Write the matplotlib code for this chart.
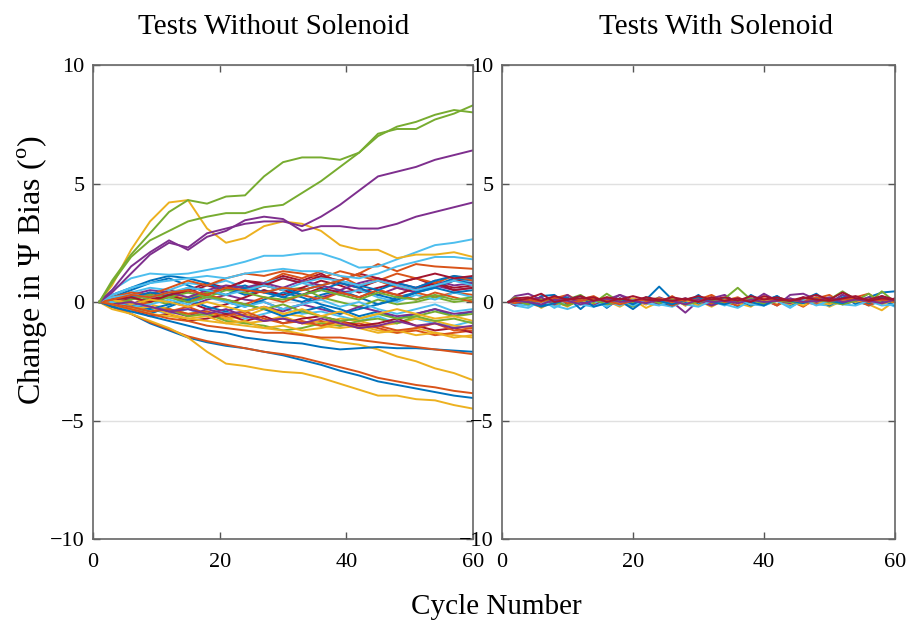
import matplotlib
matplotlib.use("Agg")
import matplotlib.pyplot as plt

plt.rcParams["font.family"] = ["Liberation Serif", "DejaVu Serif"]
plt.rcParams["mathtext.fontset"] = "custom"
plt.rcParams["mathtext.rm"] = "Liberation Serif"

# MATLAB default colour order
BLUE, ORANGE, YELLOW, PURPLE = "#0072BD", "#D95319", "#EDB120", "#7E2F8E"
GREEN, LBLUE, DRED = "#77AC30", "#4DBEEE", "#A2142F"

# ---- left panel: tests without solenoid (values read every 3 cycles) ----
ciclos_izq = [1, 3, 6, 9, 12, 15, 18, 21, 24, 27, 30, 33, 36, 39, 42, 45, 48, 51, 54, 57, 60]

verde_a = [0, 0.9, 2.0, 2.9, 3.8, 4.3, 4.15, 4.45, 4.5, 5.3, 5.9, 6.1, 6.1, 6.0, 6.3, 7.0, 7.4, 7.6, 7.9, 8.1, 8.0]
verde_b = [0, 0.8, 1.9, 2.6, 3.0, 3.4, 3.6, 3.75, 3.75, 4.0, 4.1, 4.6, 5.1, 5.7, 6.3, 7.1, 7.3, 7.3, 7.7, 7.95, 8.3]
morado_c = [0, 0.4, 1.2, 2.0, 2.5, 2.3, 2.9, 3.1, 3.3, 3.4, 3.4, 3.2, 3.6, 4.1, 4.7, 5.3, 5.5, 5.7, 6.0, 6.2, 6.4]
morado_d = [0, 0.5, 1.5, 2.1, 2.6, 2.2, 2.75, 3.0, 3.45, 3.6, 3.5, 3.0, 3.2, 3.2, 3.1, 3.1, 3.3, 3.6, 3.8, 4.0, 4.2]
amarillo_e = [0, 0.7, 2.2, 3.4, 4.2, 4.3, 3.1, 2.5, 2.7, 3.2, 3.4, 3.3, 3.0, 2.4, 2.2, 2.2, 1.85, 2.0, 2.0, 2.1, 1.9]
celeste_f = [0, 0.5, 1.0, 1.2, 1.15, 1.2, 1.35, 1.5, 1.7, 1.95, 1.95, 2.05, 2.05, 1.8, 1.45, 1.5, 1.8, 2.1, 2.4, 2.5, 2.65]
celeste_g = [0, 0.3, 0.6, 0.8, 0.9, 1.0, 1.1, 1.0, 1.2, 1.3, 1.4, 1.3, 1.3, 1.1, 1.0, 1.2, 1.5, 1.7, 1.9, 1.9, 1.8]
naranja_h = [0, 0.1, 0.3, 0.2, 0.4, 0.5, 0.3, 0.6, 0.5, 0.4, 0.6, 0.5, 0.7, 0.9, 1.2, 1.6, 1.3, 1.6, 1.5, 1.45, 1.4]
azul_i = [0, -0.2, -0.5, -0.9, -1.2, -1.5, -1.7, -1.85, -1.95, -2.1, -2.25, -2.45, -2.65, -2.9, -3.1, -3.35, -3.5, -3.65, -3.8, -3.95, -4.05]
naranja_j = [0, -0.2, -0.5, -0.85, -1.15, -1.45, -1.65, -1.8, -1.95, -2.1, -2.2, -2.35, -2.55, -2.75, -2.95, -3.2, -3.35, -3.5, -3.6, -3.75, -3.85]
amarillo_k = [0, -0.3, -0.5, -0.8, -1.1, -1.5, -2.1, -2.6, -2.7, -2.85, -2.95, -3.0, -3.2, -3.45, -3.7, -3.95, -3.95, -4.1, -4.15, -4.35, -4.5]
amarillo_l = [0, -0.1, -0.3, -0.5, -0.6, -0.7, -0.8, -0.9, -1.0, -1.1, -1.2, -1.35, -1.55, -1.7, -1.8, -2.0, -2.3, -2.5, -2.8, -3.0, -3.3]
azul_m = [0, -0.2, -0.4, -0.6, -0.8, -1.0, -1.2, -1.3, -1.5, -1.6, -1.7, -1.75, -1.9, -2.0, -1.95, -1.9, -1.95, -1.95, -2.0, -2.05, -2.1]
naranja_n = [0, -0.1, -0.3, -0.5, -0.7, -0.8, -1.0, -1.1, -1.2, -1.3, -1.3, -1.4, -1.5, -1.5, -1.6, -1.7, -1.8, -1.9, -2.0, -2.1, -2.2]

haz = [
    (DRED,   [0, 0.1, 0.3, 0.2, 0.5, 0.4, 0.7, 0.5, 0.9, 0.8, 1.1, 0.9, 1.2, 0.8, 0.6, 0.9, 0.7, 0.5, 0.8, 0.6, 0.7]),
    (BLUE,   [0, 0.2, 0.5, 0.8, 1.0, 0.7, 0.4, 0.6, 0.3, 0.5, 0.2, 0.0, 0.3, 0.5, 0.2, -0.1, 0.2, 0.4, 0.6, 0.9, 0.8]),
    (ORANGE, [0, -0.1, 0.2, 0.0, 0.3, 0.1, 0.4, 0.6, 0.5, 0.8, 1.2, 1.0, 1.3, 1.1, 0.7, 0.9, 0.6, 0.4, 0.2, 0.4, 0.3]),
    (YELLOW, [0, -0.2, -0.1, -0.4, -0.3, -0.6, -0.5, -0.7, -0.9, -0.8, -0.6, -0.9, -1.0, -1.1, -1.0, -1.2, -1.3, -1.1, -1.3, -1.4, -1.5]),
    (PURPLE, [0, 0.1, -0.1, 0.2, 0.0, -0.2, 0.1, 0.3, 0.1, 0.0, -0.3, -0.1, 0.2, 0.4, 0.5, 0.3, 0.6, 0.4, 0.7, 0.5, 0.6]),
    (GREEN,  [0, 0.1, 0.3, 0.1, -0.1, 0.2, 0.4, 0.3, 0.6, 0.7, 0.5, 0.6, 0.2, 0.0, -0.2, 0.1, -0.1, 0.0, 0.2, 0.0, 0.1]),
    (LBLUE,  [0, -0.2, -0.4, -0.3, -0.5, -0.3, -0.6, -0.4, -0.7, -0.5, -0.3, -0.5, -0.4, -0.6, -0.8, -0.6, -0.9, -0.7, -0.9, -1.0, -0.8]),
    (DRED,   [0, 0.0, -0.2, 0.1, 0.3, 0.0, -0.3, -0.1, 0.2, 0.5, 0.3, 0.6, 0.9, 0.7, 0.4, 0.6, 0.8, 1.0, 0.7, 0.9, 1.0]),
    (BLUE,   [0, -0.1, -0.3, -0.5, -0.2, 0.1, 0.3, 0.0, -0.2, 0.1, 0.4, 0.2, -0.1, -0.3, -0.6, -0.4, -0.7, -0.5, -0.3, -0.6, -0.4]),
    (ORANGE, [0, 0.1, 0.0, -0.2, -0.4, -0.2, -0.5, -0.7, -0.5, -0.8, -0.7, -0.9, -0.8, -1.0, -0.9, -1.1, -1.3, -1.2, -1.4, -1.3, -1.2]),
    (YELLOW, [0, 0.0, 0.2, -0.1, -0.3, -0.5, -0.4, -0.7, -0.6, -0.3, -0.5, -0.6, -0.9, -0.7, -0.8, -1.0, -0.9, -0.7, -0.8, -1.0, -1.1]),
    (PURPLE, [0, -0.1, -0.3, -0.2, -0.4, -0.6, -0.3, -0.5, -0.4, -0.2, -0.4, -0.1, -0.3, -0.5, -0.2, -0.4, -0.6, -0.5, -0.3, -0.5, -0.4]),
    (GREEN,  [0, 0.0, -0.2, -0.4, -0.3, -0.6, -0.5, -0.8, -0.9, -1.0, -1.2, -1.1, -0.9, -1.0, -0.8, -0.7, -0.9, -0.6, -0.8, -0.7, -0.9]),
    (LBLUE,  [0, 0.1, 0.4, 0.6, 0.5, 0.8, 0.7, 0.9, 0.6, 0.8, 1.0, 0.8, 0.6, 0.3, 0.5, 0.2, 0.0, 0.3, 0.1, 0.4, 0.2]),
    (DRED,   [0, 0.2, 0.1, 0.4, 0.2, 0.5, 0.8, 0.6, 0.4, 0.7, 0.5, 0.3, 0.6, 0.4, 0.2, 0.5, 0.3, 0.6, 0.8, 0.5, 0.6]),
    (BLUE,   [0, 0.3, 0.6, 0.9, 1.1, 1.0, 0.8, 0.5, 0.7, 0.4, 0.6, 0.3, 0.5, 0.8, 0.6, 0.3, 0.1, 0.4, 0.7, 1.0, 0.9]),
    (ORANGE, [0, -0.1, -0.2, 0.0, 0.2, 0.0, 0.3, 0.1, -0.1, 0.2, 0.0, 0.3, 0.1, 0.4, 0.2, 0.5, 0.3, 0.1, 0.4, 0.2, 0.0]),
    (DRED,   [0, -0.1, -0.3, -0.6, -0.5, -0.8, -0.7, -0.5, -0.8, -0.6, -0.9, -0.7, -0.6, -0.8, -1.0, -0.9, -0.7, -1.0, -1.2, -1.1, -1.3]),
    (BLUE,   [0, -0.2, -0.1, -0.3, -0.1, 0.1, -0.2, -0.4, -0.1, -0.3, -0.6, -0.4, -0.2, -0.5, -0.3, -0.1, 0.1, 0.4, 0.6, 0.4, 0.5]),
    (GREEN,  [0, 0.1, 0.2, 0.0, 0.2, 0.4, 0.2, 0.5, 0.4, 0.2, 0.1, 0.3, 0.5, 0.3, 0.1, 0.4, 0.2, 0.1, 0.3, 0.1, 0.2]),
    (PURPLE, [0, 0.1, 0.3, 0.5, 0.4, 0.2, 0.5, 0.7, 0.6, 0.8, 0.6, 0.9, 0.7, 0.5, 0.8, 1.0, 0.8, 0.6, 0.9, 0.7, 0.8]),
    (YELLOW, [0, -0.1, -0.3, -0.2, -0.5, -0.7, -0.6, -0.9, -0.8, -1.1, -1.0, -1.2, -1.1, -0.9, -1.1, -1.3, -1.2, -1.4, -1.3, -1.5, -1.4]),
    (ORANGE, [0, 0.2, 0.4, 0.3, 0.6, 0.9, 0.7, 1.0, 1.2, 1.1, 1.3, 1.2, 1.0, 1.3, 1.1, 0.9, 1.2, 1.0, 0.8, 1.1, 0.9]),
    (LBLUE,  [0, 0.0, -0.2, -0.1, 0.1, -0.1, 0.2, 0.0, -0.2, 0.0, -0.3, -0.1, 0.1, -0.2, 0.0, -0.3, -0.5, -0.3, -0.1, -0.4, -0.3]),
    (BLUE,   [0, 0.1, 0.2, 0.4, 0.3, 0.6, 0.5, 0.3, 0.6, 0.4, 0.2, 0.5, 0.7, 0.9, 0.7, 0.5, 0.8, 0.6, 0.9, 1.1, 1.0]),
    (ORANGE, [0, -0.1, -0.2, -0.4, -0.3, -0.5, -0.4, -0.6, -0.4, -0.7, -0.9, -0.8, -1.0, -0.8, -1.1, -1.0, -1.2, -1.1, -0.9, -1.2, -1.1]),
    (GREEN,  [0, -0.1, 0.1, 0.3, 0.2, 0.0, 0.2, 0.1, -0.1, -0.3, -0.1, -0.4, -0.6, -0.8, -0.7, -0.5, -0.7, -0.6, -0.4, -0.6, -0.5]),
    (DRED,   [0, 0.1, 0.2, 0.0, 0.3, 0.5, 0.3, 0.6, 0.9, 0.7, 1.0, 0.8, 1.1, 0.9, 1.2, 1.0, 0.8, 1.0, 1.2, 1.0, 1.1]),
    (YELLOW, [0, 0.1, -0.1, 0.1, 0.0, -0.2, 0.0, -0.2, -0.4, -0.2, -0.5, -0.3, -0.6, -0.4, -0.7, -0.5, -0.3, -0.5, -0.7, -0.6, -0.8]),
    (LBLUE,  [0, 0.2, 0.3, 0.2, 0.4, 0.6, 0.5, 0.3, 0.5, 0.7, 0.5, 0.8, 1.0, 0.9, 0.7, 0.9, 0.7, 0.5, 0.7, 0.9, 0.7]),
    (PURPLE, [0, -0.1, 0.0, -0.2, -0.4, -0.3, -0.5, -0.3, -0.6, -0.8, -0.7, -0.9, -0.7, -0.9, -1.1, -1.0, -0.8, -1.0, -0.9, -1.1, -1.0]),
]

destacadas = [
    (azul_i, BLUE), (naranja_j, ORANGE), (amarillo_k, YELLOW), (amarillo_l, YELLOW),
    (azul_m, BLUE), (naranja_n, ORANGE), (naranja_h, ORANGE), (celeste_g, LBLUE),
    (celeste_f, LBLUE), (amarillo_e, YELLOW), (morado_d, PURPLE), (morado_c, PURPLE),
    (verde_b, GREEN), (verde_a, GREEN),
]

# ---- right panel: tests with solenoid (values read every 2 cycles) ----
ciclos_der = [1] + list(range(2, 61, 2))

con_solenoide = [
    (BLUE,   [0, 0.1, -0.15, 0.25, 0.3, -0.1, 0.05, 0.2, -0.25, 0.15, -0.05, 0.1, 0.65, 0.1, -0.05, 0.3, -0.15, 0.15, -0.2, 0.3, 0.0, 0.25, -0.15, 0.1, 0.35, -0.05, 0.3, -0.1, 0.2, 0.4, 0.45]),
    (ORANGE, [0, 0.15, -0.05, -0.2, 0.15, 0.3, 0.0, -0.15, 0.2, 0.05, -0.1, 0.2, -0.05, 0.25, -0.15, 0.1, 0.3, 0.0, -0.15, 0.15, -0.05, 0.2, 0.05, -0.2, 0.15, 0.3, -0.05, 0.2, 0.35, -0.05, 0.15]),
    (YELLOW, [0, -0.15, 0.1, -0.25, 0.05, -0.2, 0.15, -0.1, 0.05, -0.2, 0.1, -0.25, 0.0, 0.15, -0.15, 0.05, -0.2, 0.1, -0.05, -0.2, 0.15, -0.1, 0.05, -0.15, 0.1, -0.2, 0.05, 0.15, -0.1, -0.35, 0.05]),
    (PURPLE, [0, 0.25, 0.35, 0.1, -0.05, 0.3, -0.1, 0.15, -0.05, 0.3, 0.1, -0.1, 0.2, 0.0, -0.45, 0.05, 0.15, 0.3, -0.05, 0.15, 0.1, -0.15, 0.3, 0.35, 0.1, -0.05, 0.3, 0.15, -0.05, 0.25, 0.05]),
    (GREEN,  [0, 0.2, -0.05, 0.15, -0.15, 0.1, 0.3, -0.05, 0.35, 0.0, -0.2, 0.1, 0.15, -0.05, 0.1, 0.2, -0.05, 0.15, 0.6, 0.1, -0.05, 0.15, -0.1, 0.15, -0.05, 0.1, 0.45, 0.1, -0.05, 0.45, 0.0]),
    (LBLUE,  [0, -0.15, -0.25, 0.05, -0.15, -0.3, -0.1, 0.05, -0.2, 0.1, -0.15, 0.05, -0.1, -0.2, 0.05, -0.15, 0.1, -0.1, -0.25, 0.05, -0.15, 0.1, -0.2, 0.05, -0.1, -0.15, 0.05, 0.1, -0.15, 0.05, -0.2]),
    (BLUE,   [0, -0.1, 0.15, -0.15, 0.05, 0.2, -0.3, 0.15, -0.1, 0.05, -0.3, 0.1, 0.0, -0.15, 0.15, -0.1, 0.05, 0.15, 0.1, -0.15, 0.05, 0.25, -0.1, 0.0, 0.15, -0.15, 0.2, 0.0, -0.1, 0.1, -0.15]),
    (ORANGE, [0, 0.1, -0.1, 0.15, 0.0, -0.15, 0.1, 0.25, -0.05, -0.1, 0.15, 0.0, 0.1, -0.15, 0.05, 0.15, -0.1, 0.05, 0.2, -0.05, 0.1, -0.15, 0.15, 0.0, -0.1, 0.15, -0.05, 0.1, -0.15, 0.1, 0.0]),
    (YELLOW, [0, 0.05, 0.15, 0.05, -0.1, 0.05, 0.15, -0.15, 0.1, -0.05, 0.15, -0.1, 0.15, 0.0, 0.1, -0.15, 0.05, 0.1, 0.15, -0.1, 0.05, 0.1, -0.1, 0.15, 0.0, -0.1, 0.1, 0.0, 0.15, -0.1, 0.1]),
    (PURPLE, [0, -0.15, 0.05, 0.2, -0.1, 0.15, 0.0, -0.15, 0.1, 0.3, -0.05, 0.15, -0.1, 0.05, 0.15, 0.05, -0.15, 0.05, 0.15, 0.0, 0.35, 0.05, -0.05, 0.2, 0.0, 0.15, -0.1, 0.05, 0.2, 0.0, 0.15]),
    (LBLUE,  [0, -0.1, -0.15, 0.1, -0.25, 0.05, -0.1, -0.2, 0.05, -0.15, 0.1, -0.05, -0.15, 0.1, -0.1, -0.2, 0.05, -0.15, 0.1, -0.1, -0.15, 0.05, -0.25, 0.1, -0.15, 0.05, -0.1, -0.15, 0.05, -0.15, -0.1]),
    (GREEN,  [0, 0.05, -0.1, 0.1, 0.0, -0.15, 0.05, 0.1, -0.1, 0.05, 0.0, 0.15, -0.05, 0.1, -0.1, 0.0, 0.1, -0.05, 0.0, 0.15, -0.1, 0.05, 0.0, -0.05, 0.1, 0.0, -0.1, 0.05, 0.35, -0.05, 0.1]),
    (BLUE,   [0, 0.1, 0.0, -0.2, -0.05, 0.1, 0.25, -0.2, -0.05, 0.15, -0.1, 0.2, 0.05, -0.1, 0.1, 0.2, 0.0, -0.1, 0.1, 0.0, -0.15, 0.15, 0.05, -0.05, 0.2, 0.05, -0.05, 0.15, 0.0, 0.2, 0.05]),
    (ORANGE, [0, -0.05, 0.1, 0.0, 0.2, -0.05, 0.05, 0.15, 0.05, -0.1, 0.05, 0.1, 0.15, 0.0, 0.1, 0.05, 0.2, 0.0, 0.1, 0.05, 0.15, 0.05, 0.1, 0.0, 0.2, 0.05, 0.1, 0.15, 0.0, 0.1, 0.05]),
    (PURPLE, [0, 0.05, 0.0, -0.1, 0.1, 0.05, -0.1, 0.05, 0.15, 0.0, 0.05, -0.05, 0.1, 0.05, -0.1, 0.1, 0.0, 0.05, -0.05, 0.1, 0.0, 0.05, 0.15, 0.0, 0.05, 0.2, 0.0, 0.1, 0.05, -0.05, 0.1]),
    (DRED,   [0, 0.15, 0.2, 0.05, 0.25, 0.1, 0.25, 0.05, 0.2, 0.1, 0.25, 0.1, 0.05, 0.2, 0.1, 0.25, 0.1, 0.2, 0.05, 0.25, 0.1, 0.2, 0.05, 0.15, 0.3, 0.1, 0.4, 0.15, 0.1, 0.25, 0.1]),
    (DRED,   [0, 0.05, 0.15, 0.35, 0.0, 0.1, 0.15, 0.2, 0.0, 0.15, 0.05, 0.2, 0.1, 0.05, 0.15, 0.0, 0.2, 0.05, 0.15, 0.0, 0.25, 0.1, 0.05, 0.2, 0.1, 0.05, 0.15, 0.25, 0.05, 0.15, 0.1]),
]

titulos = ["Tests Without Solenoid", "Tests With Solenoid"]
yticks = [-10, -5, 0, 5, 10]
xticks = [0, 20, 40, 60]

fig = plt.figure(figsize=(9.13, 6.25), dpi=100)
ax1 = fig.add_axes([0.1019, 0.1376, 0.4162, 0.7584])
ax2 = fig.add_axes([0.5498, 0.1376, 0.4304, 0.7584])

LW = 1.4
for color, vals in haz:
    ax1.plot(ciclos_izq, vals, color=color, lw=LW)
for vals, color in destacadas:
    ax1.plot(ciclos_izq, vals, color=color, lw=LW)
for color, vals in con_solenoide:
    ax2.plot(ciclos_der, vals, color=color, lw=LW)

for ax in [ax1, ax2]:
    ax.set_xlim(0, 60)
    ax.set_ylim(-10, 10)
    ax.set_xticks(xticks)
    ax.set_yticks(yticks)
    ax.yaxis.grid(True, color="#e0e0e0", lw=1.0)
    ax.set_axisbelow(True)
    ax.tick_params(direction="in", length=5, width=1.0, color="#555555",
                   labelsize=16, top=True, right=True)
    ax.tick_params(axis="x", pad=10)
    ax.tick_params(axis="y", pad=6)
    for s in ax.spines.values():
        s.set_color("#666666")
        s.set_linewidth(1.2)

fig.text(0.300, 0.957, titulos[0], ha="center", va="center", fontsize=21)
fig.text(0.784, 0.957, titulos[1], ha="center", va="center", fontsize=21)
fig.text(0.036, 0.568, "Change in Ψ Bias ($^{\\mathrm{o}}$)", rotation=90,
         ha="center", va="center", fontsize=23)
fig.text(0.544, 0.029, "Cycle Number", ha="center", va="center", fontsize=21)

plt.savefig("out.png", dpi=100)
